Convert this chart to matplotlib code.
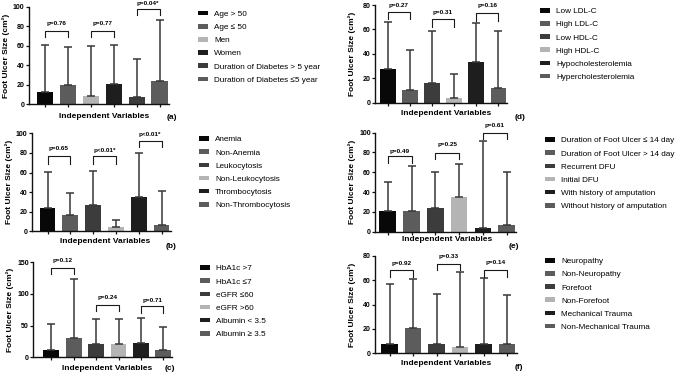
import matplotlib
matplotlib.use("Agg")
import matplotlib.pyplot as plt
from matplotlib.patches import Patch

plt.rcParams['font.family'] = ['Liberation Sans', 'DejaVu Sans']

W, H = 676, 374

# ---------------- data ----------------
labels_a = ["Age > 50", "Age ≤ 50", "Men", "Women",
            "Duration of Diabetes > 5 year", "Duration of Diabetes ≤5 year"]
mean_a = [12.3, 19.5, 8.5, 20.5, 7.0, 23.5]
upper_a = [60.5, 58.5, 60.0, 60.5, 46.8, 86.3]
pvals_a = ["p=0.76", "p=0.77", "p=0.04*"]
brk_top_a = [75.4, 75.4, 98.0]
brk_bot_a = [68.6, 68.6, 91.5]
ptxt_a = [83.0, 83.0, 103.0]

labels_b = ["Anemia", "Non-Anemia", "Leukocytosis", "Non-Leukocytosis",
            "Thrombocytosis", "Non-Thrombocytosis"]
mean_b = [23.5, 17.0, 27.0, 4.4, 35.0, 6.5]
upper_b = [60.5, 39.0, 61.5, 11.5, 79.6, 41.0]
pvals_b = ["p=0.65", "p<0.01*", "p<0.01*"]
brk_top_b = [77.0, 77.0, 92.5]
brk_bot_b = [69.0, 69.0, 86.0]
ptxt_b = [84.0, 82.5, 99.0]

labels_c = ["HbA1c >7", "HbA1c ≤7", "eGFR ≤60", "eGFR >60",
            "Albumin < 3.5", "Albumin ≥ 3.5"]
mean_c = [12.0, 30.0, 21.0, 20.5, 23.0, 12.0]
upper_c = [52.0, 124.0, 60.5, 61.0, 62.0, 48.0]
pvals_c = ["p=0.12", "p=0.24", "p=0.71"]
brk_top_c = [140.5, 82.6, 81.0]
brk_bot_c = [131.0, 73.0, 69.5]
ptxt_c = [153.0, 94.5, 89.5]

labels_d = ["Low LDL-C", "High LDL-C", "Low HDL-C", "High HDL-C",
            "Hypocholesterolemia", "Hypercholesterolemia"]
mean_d = [27.3, 10.1, 15.9, 4.1, 33.3, 12.0]
upper_d = [66.0, 43.0, 58.7, 23.5, 65.0, 58.7]
pvals_d = ["p=0.27", "p=0.31", "p=0.16"]
brk_top_d = [74.3, 68.3, 73.2]
brk_bot_d = [68.3, 62.3, 67.2]
ptxt_d = [80.0, 73.7, 80.0]

labels_e = ["Duration of Foot Ulcer ≤ 14 day", "Duration of Foot Ulcer > 14 day",
            "Recurrent DFU", "Initial DFU", "With history of amputation",
            "Without history of amputation"]
mean_e = [21.0, 20.5, 23.5, 34.7, 4.0, 7.0]
upper_e = [50.5, 66.3, 60.0, 68.7, 91.2, 60.6]
pvals_e = ["p=0.49", "p=0.25", "p=0.61"]
brk_top_e = [76.4, 79.0, 100.0]
brk_bot_e = [69.7, 73.0, 93.6]
ptxt_e = [81.5, 88.0, 107.0]

labels_f = ["Neuropathy", "Non-Neuropathy", "Forefoot", "Non-Forefoot",
            "Mechanical Trauma", "Non-Mechanical Trauma"]
mean_f = [7.3, 20.9, 7.3, 5.1, 7.3, 7.9]
upper_f = [57.2, 60.7, 48.5, 66.4, 61.5, 48.0]
pvals_f = ["p=0.92", "p=0.33", "p=0.14"]
brk_top_f = [68.6, 73.2, 68.6]
brk_bot_f = [62.6, 68.6, 62.9]
ptxt_f = [74.0, 79.4, 74.5]

# ---------------- styles ----------------
BLACK, GRAY, LIGHT, VDARK, DARK = "#080808", "#5c5c5c", "#b4b4b4", "#1e1e1e", "#3c3c3c"
colors_a = [BLACK, GRAY, LIGHT, VDARK, DARK, GRAY]
colors_std = [BLACK, GRAY, DARK, LIGHT, VDARK, GRAY]

panels = [
    dict(tag="(a)", labels=labels_a, mean=mean_a, upper=upper_a, p=pvals_a, bt=brk_top_a, bb=brk_bot_a, pt=ptxt_a,
         colors=colors_a, ymax=100, yticks=[0, 20, 40, 60, 80, 100],
         c1=45.0, pitch=22.9, xl=-0.7, top=6.7, bottom=104.3, lx=198, ly=47.3, xlab=(104, 116), let=(172, 117.5)),
    dict(tag="(b)", labels=labels_b, mean=mean_b, upper=upper_b, p=pvals_b, bt=brk_top_b, bb=brk_bot_b, pt=ptxt_b,
         colors=colors_std, ymax=100, yticks=[0, 20, 40, 60, 80, 100],
         c1=47.5, pitch=22.8, xl=-0.69, top=133.3, bottom=231.3, lx=199, ly=172.7, xlab=(105, 241.5), let=(171, 247)),
    dict(tag="(c)", labels=labels_c, mean=mean_c, upper=upper_c, p=pvals_c, bt=brk_top_c, bb=brk_bot_c, pt=ptxt_c,
         colors=colors_std, ymax=150, yticks=[0, 50, 100, 150],
         c1=51.3, pitch=22.4, xl=-0.8, top=262.3, bottom=357.3, lx=200, ly=301.7, xlab=(107, 368.3), let=(170, 369)),
    dict(tag="(d)", labels=labels_d, mean=mean_d, upper=upper_d, p=pvals_d, bt=brk_top_d, bb=brk_bot_d, pt=ptxt_d,
         colors=colors_std, ymax=80, yticks=[0, 20, 40, 60, 80],
         c1=387.8, pitch=22.1, xl=-0.58, top=5.0, bottom=102.7, lx=540, ly=44.5, xlab=(446, 113.3), let=(520, 117.3)),
    dict(tag="(e)", labels=labels_e, mean=mean_e, upper=upper_e, p=pvals_e, bt=brk_top_e, bb=brk_bot_e, pt=ptxt_e,
         colors=colors_std, ymax=100, yticks=[0, 20, 40, 60, 80, 100],
         c1=387.7, pitch=23.8, xl=-0.52, top=132.7, bottom=231.7, lx=545, ly=173.7, xlab=(447, 239.5), let=(514, 246.5)),
    dict(tag="(f)", labels=labels_f, mean=mean_f, upper=upper_f, p=pvals_f, bt=brk_top_f, bb=brk_bot_f, pt=ptxt_f,
         colors=colors_std, ymax=80, yticks=[0, 20, 40, 60, 80],
         c1=389.7, pitch=23.5, xl=-0.63, top=255.7, bottom=353.3, lx=545, ly=294.5, xlab=(446, 363.3), let=(519, 367.7)),
]

fig = plt.figure(figsize=(W / 100, H / 100), dpi=100)
XR = 5.4

for P in panels:
    left = P["c1"] + P["xl"] * P["pitch"]
    right = P["c1"] + XR * P["pitch"]
    ax = fig.add_axes([left / W, 1 - P["bottom"] / H, (right - left) / W, (P["bottom"] - P["top"]) / H])
    x = list(range(len(P["mean"])))
    ax.bar(x, P["mean"], width=0.7, color=P["colors"], edgecolor="none", zorder=2)
    err_up = [u - m for u, m in zip(P["upper"], P["mean"])]
    ax.errorbar(x, P["mean"], yerr=[[0] * len(x), err_up], fmt="none", ecolor="#383838",
                elinewidth=1.1, capsize=3.0, capthick=1.1, zorder=3)
    for i in range(3):
        x1, x2 = 2 * i, 2 * i + 1
        ax.plot([x1, x1, x2, x2], [P["bb"][i], P["bt"][i], P["bt"][i], P["bb"][i]],
                color="#1a1a1a", lw=0.8, clip_on=False, zorder=4)
        ax.text((x1 + x2) / 2, P["pt"][i], P["p"][i], ha="center", va="center",
                fontsize=4.6, fontweight="bold", clip_on=False)
    ax.set_xlim(P["xl"], XR)
    ax.set_ylim(0, P["ymax"])
    ax.set_yticks(P["yticks"])
    ax.set_yticklabels([str(t) for t in P["yticks"]], fontsize=5, fontweight="bold")
    ax.set_xticks(x)
    ax.set_xticklabels([])
    for s in ["top", "right"]:
        ax.spines[s].set_visible(False)
    for s in ["left", "bottom"]:
        ax.spines[s].set_linewidth(1.0)
        ax.spines[s].set_color("#111111")
    ax.tick_params(axis="y", length=2.2, width=0.9, pad=1, color="#111111")
    ax.tick_params(axis="x", length=2.2, width=0.9, color="#111111")

    fig.text((left - 23) / W, 1 - (P["top"] + P["bottom"]) / 2 / H, "Foot Ulcer Size (cm²)",
             rotation=90, ha="center", va="center", fontsize=6, fontweight="bold")
    fig.text(P["xlab"][0] / W, 1 - P["xlab"][1] / H, "Independent Variables",
             ha="center", va="center", fontsize=6, fontweight="bold")
    fig.text(P["let"][0] / W, 1 - P["let"][1] / H, P["tag"],
             ha="center", va="center", fontsize=6, fontweight="bold")

    handles = [Patch(facecolor=c, edgecolor="none", label=l) for c, l in zip(P["colors"], P["labels"])]
    ax.legend(handles=handles, loc="center left", bbox_to_anchor=(P["lx"] / W, 1 - P["ly"] / H),
              bbox_transform=fig.transFigure, frameon=False, fontsize=5.9, borderpad=0,
              borderaxespad=0, handlelength=1.2, handleheight=0.5, handletextpad=0.75,
              labelspacing=0.72)

fig.savefig("out.png", dpi=100)
